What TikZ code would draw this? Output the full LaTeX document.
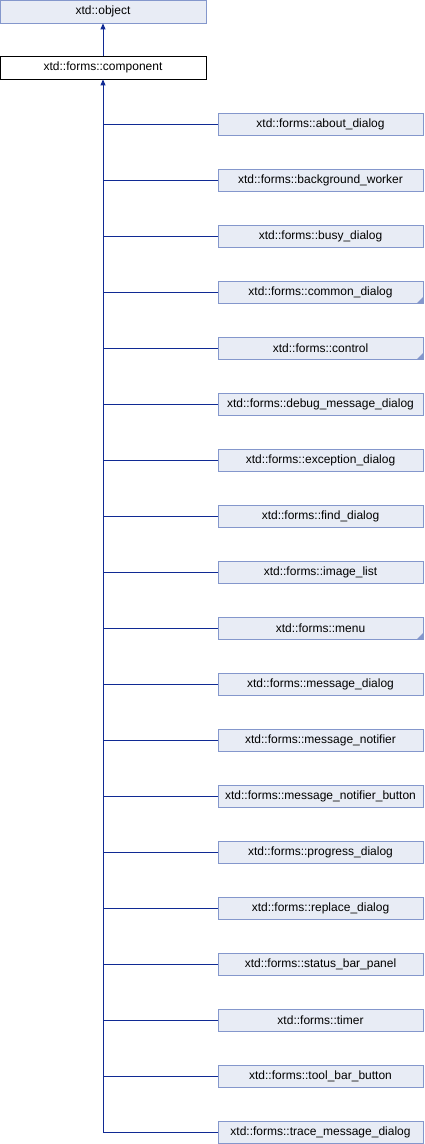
\documentclass[tikz,border=0pt]{standalone}
\usepackage{fontspec}
\setmainfont{Liberation Sans}
\usetikzlibrary{arrows.meta}
\definecolor{boxfill}{HTML}{E8ECF5}
\definecolor{boxdraw}{HTML}{8497CC}
\definecolor{linkcol}{HTML}{102A94}
\begin{document}
\begin{tikzpicture}[x=1pt,y=-1pt,
  cls/.style={draw=boxdraw,fill=boxfill,minimum width=205pt,minimum height=22pt,inner sep=0pt,font=\fontsize{12}{14}\selectfont,line width=0.8pt},
  base/.style={draw=black,fill=white,minimum width=206pt,minimum height=23pt,inner sep=0pt,font=\fontsize{12}{14}\selectfont,line width=0.8pt},
  more/.style={path picture={\fill[boxdraw] (path picture bounding box.south east) ++(-6pt,0) -- ++(6pt,0) -- ++(0,6pt) -- cycle;}},
  link/.style={draw=linkcol,line width=0.9pt},
  tip/.style={-{Triangle[length=6pt,width=5pt]}}]
\useasboundingbox (0,0) rectangle (424,1144);
\node[cls,minimum width=206pt,minimum height=23pt] (obj) at (103,11.5) {xtd::object};
\node[base] (comp) at (103,67.5) {xtd::forms::component};
\draw[link,tip] (comp.north) -- (obj.south);
\foreach \n/\t/\m [count=\i from 0] in {
 c0/about\_dialog/0, c1/background\_worker/0, c2/busy\_dialog/0, c3/common\_dialog/1,
 c4/control/1, c5/debug\_message\_dialog/0, c6/exception\_dialog/0, c7/find\_dialog/0,
 c8/image\_list/0, c9/menu/1, c10/message\_dialog/0, c11/message\_notifier/0,
 c12/message\_notifier\_button/0, c13/progress\_dialog/0, c14/replace\_dialog/0,
 c15/status\_bar\_panel/0, c16/timer/0, c17/tool\_bar\_button/0, c18/trace\_message\_dialog/0} {
  \ifnum\m=1
    \node[cls,more] (\n) at (320.5,{124+56*\i}) {xtd::forms::\t};
  \else
    \node[cls] (\n) at (320.5,{124+56*\i}) {xtd::forms::\t};
  \fi
  \draw[link] (\n.west) -- (\n.west -| comp.south);
}
\draw[link,tip] (c18.west -| comp.south) -- (comp.south);
\end{tikzpicture}
\end{document}
